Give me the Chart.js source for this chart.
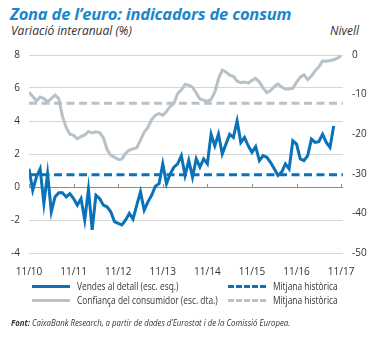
<!DOCTYPE html>
<html><head><meta charset="utf-8">
<script src="https://cdn.jsdelivr.net/npm/chart.js@4/dist/chart.umd.min.js"></script>
<style>
html,body{margin:0;padding:0;background:#fff;}
body{width:380px;height:338px;position:relative;overflow:hidden;font-family:"Open Sans",sans-serif;color:#222;}
.t{position:absolute;white-space:nowrap;}
#title{left:10px;top:2px;font-size:16.5px;font-weight:700;font-style:italic;color:#1b87cc;letter-spacing:-0.2px;}
#sub{left:11px;top:22px;font-size:12px;font-style:italic;color:#333;}
#niv{left:330px;top:22px;font-size:12px;font-style:italic;color:#333;}
#wrap{position:absolute;left:0;top:40px;width:380px;height:240px;}
.lg{position:absolute;font-family:"Open Sans",sans-serif;font-size:10.2px;color:#333;transform:scaleX(0.82);transform-origin:0 50%;}
.ln{position:absolute;height:0;width:38px;}
#src{left:11px;top:316px;font-family:"Open Sans",sans-serif;font-size:9.3px;font-style:italic;color:#333;transform:scaleX(0.84);transform-origin:0 50%;}
</style></head>
<body>
<div class="t" id="title">Zona de l’euro: indicadors de consum</div>
<div class="t" id="sub">Variació interanual (%)</div>
<div class="t" id="niv">Nivell</div>
<div id="wrap"><canvas id="c" width="380" height="240"></canvas></div>
<div class="ln" style="left:32px;top:285px;border-top:3px solid #0a72b8;"></div>
<div class="t lg" style="left:77px;top:279px;">Vendes al detall (esc. esq.)</div>
<div class="ln" style="left:32px;top:299px;border-top:3px solid #b7c2c8;"></div>
<div class="t lg" style="left:77px;top:293px;">Confiança del consumidor (esc. dta.)</div>
<div class="ln" style="left:228px;top:285px;border-top:3px dashed #0a72b8;"></div>
<div class="t lg" style="left:273px;top:279px;">Mitjana històrica</div>
<div class="ln" style="left:228px;top:299px;border-top:3px dashed #b7c2c8;"></div>
<div class="t lg" style="left:273px;top:293px;">Mitjana històrica</div>
<div class="t" id="src"><b>Font:</b> CaixaBank Research, a partir de dades d’Eurostat i de la Comissió Europea.</div>
<script>
// Month index 0 = Nov 2010
const xTickLabels = ["11/10","11/11","11/12","11/13","11/14","11/15","11/16","11/17"];
const xTickValues = [0,12,24,36,48,60,72,84];
const leftTicks = [8,6,4,2,0,-2,-4];
const rightTicks = [0,-10,-20,-30,-40,-50];

// Retail sales, y-o-y % (left axis), monthly from Nov 2010
const retailSales = [1.1,-0.2,0.6,1.1,-1.0,0.8,-1.5,-0.6,-0.35,-0.35,
 -0.6,-0.4,-0.7,-1.1,-0.7,-2.0,-0.15,-2.6,-0.5,-0.7,
 -1.1,-1.2,-1.5,-2.1,-2.2,-2.3,-2.0,-1.6,-1.95,-1.1,
 -0.3,-1.4,-0.9,-0.5,0.05,0.2,1.4,0.2,0.8,1.2,
 1.4,1.9,0.7,1.6,0.6,1.7,1.2,1.7,1.4,3.2,
 2.5,3.2,2.0,2.6,3.2,3.0,4.0,2.7,3.0,2.5,
 2.1,2.45,1.6,1.9,1.8,1.5,1.1,0.7,0.9,1.4,
 1.1,2.8,2.6,1.7,1.6,1.9,2.9,2.7,2.75,3.2,
 2.7,2.4,3.7];
// Consumer confidence, level (right axis), monthly from Nov 2010
const consumerConf = [-9.4,-10.5,-11.6,-10.6,-11.0,-11.8,-11.0,-10.1,-11.0,-15.5,
 -18.3,-20.0,-20.3,-21.2,-20.6,-20.2,-19.3,-19.7,-19.4,-19.6,
 -20.9,-23.8,-25.3,-25.8,-26.4,-26.3,-24.8,-24.0,-23.7,-23.4,
 -21.5,-19.5,-18.3,-16.3,-15.2,-14.8,-15.2,-14.3,-13.0,-12.2,
 -9.8,-8.8,-7.4,-7.6,-8.1,-9.6,-11.1,-11.4,-11.7,-11.2,
 -9.4,-6.0,-3.8,-4.3,-5.1,-5.4,-6.6,-7.0,-6.8,-7.1,
 -6.4,-5.9,-6.8,-8.3,-9.5,-9.0,-8.0,-7.3,-8.1,-8.6,
 -8.6,-8.4,-6.9,-5.6,-5.0,-6.2,-5.3,-4.0,-3.0,-1.5,
 -1.6,-1.4,-1.2,-0.8,-0.2];
const retailAvg = 0.75;
const confAvg = -12.2;

const BLUE = "#0a72b8", GREY = "#b7c2c8";
const X_MAX = 84.5;

const toPts = arr => arr.map((v,i)=>({x:i,y:v}));
const flat = v => [{x:0,y:v},{x:X_MAX,y:v}];

const zeroTicks = {
  id:"zeroTicks",
  beforeDatasetsDraw(chart){
    const {ctx, scales:{x, yL}} = chart;
    const y0 = Math.round(yL.getPixelForValue(0)) + 0.5;
    ctx.save();
    ctx.strokeStyle = "#8c8c8c"; ctx.lineWidth = 1;
    xTickValues.forEach(v=>{
      const px = Math.round(x.getPixelForValue(v)) + 0.5;
      ctx.beginPath(); ctx.moveTo(px, y0 - 3.5); ctx.lineTo(px, y0); ctx.stroke();
    });
    ctx.restore();
  }
};

new Chart(document.getElementById("c"), {
  type: "line",
  data: { datasets: [
    {data: flat(confAvg), yAxisID:"yR", borderColor:GREY, borderWidth:3, borderDash:[8,4.5], pointRadius:0, order:4},
    {data: toPts(consumerConf), yAxisID:"yR", borderColor:GREY, borderWidth:3, pointRadius:0, tension:0, order:3},
    {data: flat(retailAvg), yAxisID:"yL", borderColor:BLUE, borderWidth:3, borderDash:[8,4.5], pointRadius:0, order:2},
    {data: toPts(retailSales), yAxisID:"yL", borderColor:BLUE, borderWidth:3, pointRadius:0, tension:0, order:1}
  ]},
  options: {
    responsive:false, animation:false, events:[],
    layout:{padding:{top:13, left:0, right:0, bottom:0}},
    plugins:{legend:{display:false}, tooltip:{enabled:false}},
    scales:{
      x:{type:"linear", min:0, max:X_MAX,
        afterBuildTicks(s){ s.ticks = xTickValues.map(v=>({value:v})); },
        afterFit(s){ s.height = 27; },
        grid:{display:false}, border:{display:false},
        ticks:{padding:5, color:"#333", font:{family:"Open Sans", size:10},
          callback:(v)=>xTickLabels[xTickValues.indexOf(v)]}
      },
      yL:{position:"left", min:-4, max:8,
        afterBuildTicks(s){ s.ticks = leftTicks.map(v=>({value:v})); },
        afterFit(s){ s.width = 29; },
        border:{display:false},
        grid:{drawTicks:false, lineWidth:1, color:(c)=>c.tick && c.tick.value===0 ? "#8c8c8c" : "#d6d6d6"},
        ticks:{padding:9, color:"#333", font:{family:"Open Sans", size:10}}
      },
      yR:{position:"right", min:-50, max:0,
        afterBuildTicks(s){ s.ticks = rightTicks.map(v=>({value:v})); },
        afterFit(s){ s.width = 37; },
        border:{display:false},
        grid:{display:false, drawTicks:false},
        ticks:{padding:9, color:"#333", font:{family:"Open Sans", size:10}}
      }
    }
  },
  plugins:[zeroTicks]
});
</script>
</body></html>
